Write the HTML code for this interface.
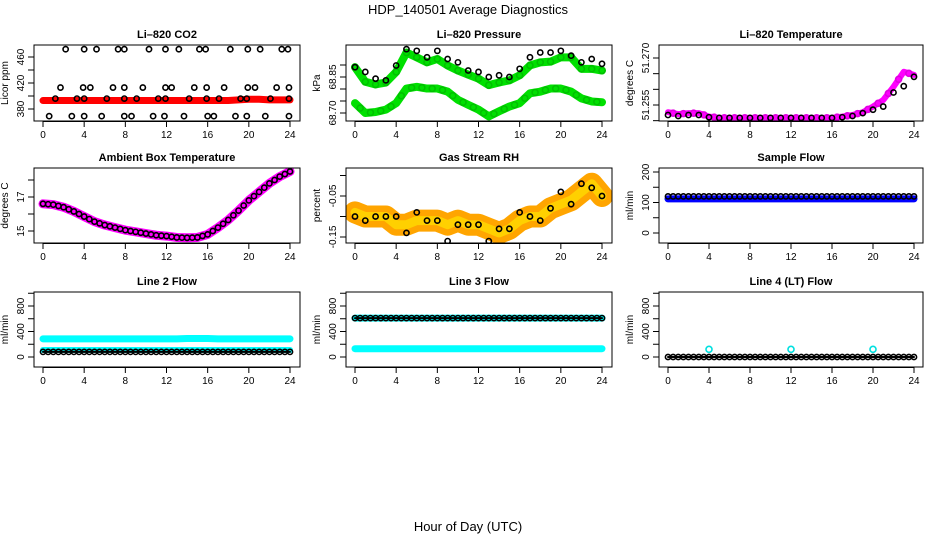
<!DOCTYPE html>
<html><head><meta charset="utf-8"><style>
body{margin:0;background:#fff;width:936px;height:540px;overflow:hidden}
svg{display:block;font-family:"Liberation Sans",sans-serif}
</style></head><body>
<svg id="fig" width="936" height="540" viewBox="0 0 936 540">
<text x="468" y="14" text-anchor="middle" font-size="13">HDP_140501  Average Diagnostics</text>
<text x="468" y="531" text-anchor="middle" font-size="13">Hour of Day (UTC)</text>
</svg>
<script>
// ---- data ----
const hours = [0,1,2,3,4,5,6,7,8,9,10,11,12,13,14,15,16,17,18,19,20,21,22,23,24];
const xTicks = [0,4,8,12,16,20,24];
// CO2
const co2Red = [393,393,393,393,393,393,393,393,393,393,393,393,393,393,393,393,393,393,393,394,395,395,394,394,394];
const co2BlkH = [2.2,4.0,5.2,7.3,7.9,10.3,11.9,13.2,15.2,15.8,18.2,19.9,21.1,23.2,23.8,1.7,3.9,4.6,6.8,7.9,9.7,11.9,12.5,14.7,15.9,17.6,19.9,20.6,22.7,23.9,1.2,3.3,4.0,6.2,7.9,9.1,11.2,11.9,14.2,15.9,17.1,19.2,19.8,22.1,23.9,0.6,2.8,4.0,5.7,7.9,8.6,10.7,11.8,13.7,16.0,16.6,18.7,19.8,21.6,23.9];
const co2BlkV = [472,472,472,472,472,472,472,472,472,472,472,472,472,472,472,413,413,413,413,413,413,413,413,413,413,413,413,413,413,413,396,396,396,396,396,396,396,396,396,396,396,396,396,396,396,369,369,369,369,369,369,369,369,369,369,369,369,369,369,369];
// Pressure
const presUpper = [68.891,68.830,68.819,68.827,68.871,68.952,68.932,68.911,68.925,68.898,68.877,68.860,68.843,68.816,68.827,68.836,68.857,68.898,68.911,68.914,68.932,68.932,68.884,68.884,68.877];
const presLower = [68.741,68.700,68.704,68.714,68.741,68.802,68.809,68.802,68.802,68.789,68.755,68.734,68.714,68.686,68.707,68.727,68.741,68.782,68.789,68.802,68.802,68.789,68.761,68.748,68.745];
const presBlack = [68.891,68.871,68.843,68.836,68.898,68.966,68.959,68.932,68.959,68.925,68.911,68.877,68.871,68.850,68.857,68.850,68.884,68.932,68.952,68.952,68.959,68.939,68.911,68.925,68.905];
// Li-820 temperature
const tempMag = [51.2527,51.2521,51.2524,51.2524,51.2513,51.2509,51.2509,51.2509,51.2509,51.2509,51.2509,51.2509,51.2509,51.2509,51.2509,51.2509,51.2509,51.2513,51.2518,51.2527,51.2545,51.2566,51.2608,51.2656,51.2646];
const tempBlk = [51.2518,51.2515,51.2518,51.2518,51.2511,51.2509,51.2509,51.2509,51.2509,51.2509,51.2509,51.2509,51.2509,51.2509,51.2509,51.2509,51.2509,51.2511,51.2515,51.2524,51.2535,51.2545,51.2590,51.2610,51.2640];
// Ambient box temperature
const ambT = [16.6,16.55,16.4,16.15,15.85,15.55,15.35,15.2,15.05,14.95,14.85,14.75,14.7,14.62,14.6,14.62,14.8,15.2,15.65,16.2,16.8,17.3,17.8,18.2,18.5];
// RH
const rhBand = [-0.09,-0.10,-0.10,-0.10,-0.12,-0.12,-0.11,-0.11,-0.11,-0.12,-0.11,-0.12,-0.12,-0.13,-0.14,-0.13,-0.11,-0.10,-0.10,-0.08,-0.07,-0.06,-0.04,-0.02,-0.05];
const rhBlk = [-0.10,-0.11,-0.10,-0.10,-0.10,-0.14,-0.09,-0.11,-0.11,-0.16,-0.12,-0.12,-0.12,-0.16,-0.13,-0.13,-0.09,-0.10,-0.11,-0.08,-0.04,-0.07,-0.02,-0.03,-0.05];
// Flows
const sampBlue = [112,112,112,112,112,112,112,112,112,112,112,112,112,112,112,112,112,112,112,112,112,112,112,112,112];
const sampBlk = [120,120,120,120,120,120,120,120,120,120,120,120,120,120,120,120,120,120,120,120,120,120,120,120,120];
const l2CyanHi = [285,285,285,285,285,285,285,285,285,285,285,285,285,285,290,290,290,285,285,285,285,285,285,285,285];
const l2CyanLo = [110,110,110,110,110,110,110,110,110,110,110,110,110,110,110,110,110,110,110,110,110,110,110,110,110];
const l2Blk = [80,80,80,80,80,80,80,80,80,80,80,80,80,80,80,80,80,80,80,80,80,80,80,80,80];
const l3CyanHi = [610,610,610,610,610,610,610,610,610,610,610,610,610,610,610,610,610,610,610,610,610,610,610,610,610];
const l3CyanLo = [130,130,130,130,130,130,130,130,130,130,130,130,130,130,130,130,130,130,130,130,130,130,130,130,130];
const l3Blk = [610,610,610,610,610,610,610,610,610,610,610,610,610,610,610,610,610,610,610,610,610,610,610,610,610];
const l4Blk = [0,0,0,0,0,0,0,0,0,0,0,0,0,0,0,0,0,0,0,0,0,0,0,0,0];
const l4SpikeH = [4,12,20];
const l4SpikeV = [120,120,120];

// ---- drawing ----
const NS='http://www.w3.org/2000/svg';
const fig=document.getElementById('fig');
function el(tag,attrs,parent){const e=document.createElementNS(NS,tag);for(const k in attrs)e.setAttribute(k,attrs[k]);(parent||fig).appendChild(e);return e;}
const cols=[{l:34,r:300,x0:43,x24:290},{l:346,r:612,x0:355,x24:602},{l:659,r:923,x0:668,x24:914}];
const rows=[{t:45,b:121},{t:168,b:243},{t:292,b:367}];
function panel(ci,ri,name,title,ylab,v1,y1,v2,y2,yt,yl){
  const c=cols[ci],r=rows[ri];
  const g=el('g',{});
  
  
  const sx=h=>c.x0+(c.x24-c.x0)*h/24;
  const sy=v=>y1+(v-v1)*(y2-y1)/(v2-v1);
  const t=el('text',{x:(c.l+c.r)/2,y:r.t-7,'text-anchor':'middle','font-size':'11','font-weight':'bold'},g);t.textContent=title;
  
  
  const yl2=el('text',{transform:`translate(${c.l-26},${(r.t+r.b)/2}) rotate(-90)`,'text-anchor':'middle','font-size':'10'},g);yl2.textContent=ylab;
  
  
  xTicks.forEach(h=>{el('line',{x1:sx(h),x2:sx(h),y1:r.b,y2:r.b+6,stroke:'#000'},g);
    const tx=el('text',{x:sx(h),y:r.b+17,'text-anchor':'middle','font-size':'10'},g);tx.textContent=h;
    
    });
  el('line',{x1:sx(0),x2:sx(24),y1:r.b+0.5,y2:r.b+0.5,stroke:'#000'},g);
  yt.forEach(v=>el('line',{x1:c.l-6,x2:c.l,y1:sy(v),y2:sy(v),stroke:'#000'},g));
  yl.forEach(v=>{const tt=el('text',{transform:`translate(${c.l-10},${sy(v)}) rotate(-90)`,'text-anchor':'middle','font-size':'10'},g);tt.textContent=v;
    
    });
  const clip='clip'+ci+ri;
  const cp=el('clipPath',{id:clip},g);el('rect',{x:c.l,y:r.t,width:c.r-c.l,height:r.b-r.t},cp);
  const pg=el('g',{'clip-path':`url(#${clip})`},g);
  el('rect',{x:c.l,y:r.t,width:c.r-c.l,height:r.b-r.t,fill:'none',stroke:'#000'},g);
  return {g:pg,sx,sy};
}
function band(p,xs,vs,color,w,nm){
  const pts=xs.map((h,i)=>p.sx(h)+','+p.sy(vs[i])).join(' ');
  const pl=el('polyline',{points:pts,fill:'none',stroke:color,'stroke-width':w,'stroke-linejoin':'round','stroke-linecap':'round'},p.g);
  
  
}
function pts(p,xs,vs,color,nm,r){
  xs.forEach((h,i)=>{const cc=el('circle',{cx:p.sx(h),cy:p.sy(vs[i]),r:r||2.6,fill:'none',stroke:color,'stroke-width':1.6},p.g);
    
    });
}
const half=hours.slice(0,24).map(h=>h+0.5);
function mid(a){return a.slice(0,24).map((v,i)=>(v+a[i+1])/2);}

let p=panel(0,0,'co2-panel','Li–820 CO2','Licor ppm',380,109,460,57,[380,400,420,440,460],[380,420,460]);
band(p,hours,co2Red,'#f00',7,'co2-red-series');
pts(p,co2BlkH,co2BlkV,'#000','co2-point');

p=panel(1,0,'pressure-panel','Li–820 Pressure','kPa',68.70,113,68.85,77,[68.70,68.75,68.80,68.85,68.90],['68.70','68.85']);
band(p,hours,presUpper,'#00e000',8,'pressure-upper-band');
band(p,hours,presLower,'#00e000',8,'pressure-lower-band');
pts(p,hours,presUpper,'#00c000','pressure-green-point',3);
pts(p,half,mid(presLower),'#00c000','pressure-green-point',3);
pts(p,hours,presBlack,'#000','pressure-black-point');

p=panel(2,0,'li820-temp-panel','Li–820 Temperature','degrees C',51.255,105,51.270,58,[51.250,51.255,51.260,51.265,51.270],['51.255','51.270']);
band(p,hours,tempMag,'#f0f',6,'temp-magenta-band');
pts(p,half,mid(tempMag),'#e000e0','temp-magenta-point',3);
pts(p,hours,tempBlk,'#000','temp-black-point');

p=panel(0,1,'ambient-temp-panel','Ambient Box Temperature','degrees C',15,231,17,197,[15,16,17,18],[15,17]);
band(p,hours,ambT,'#f0f',9,'ambient-magenta-band');
pts(p,hours,ambT,'#000','ambient-point');
pts(p,half,mid(ambT),'#000','ambient-point');

p=panel(1,1,'rh-panel','Gas Stream RH','percent',-0.05,196,-0.15,237,[-0.15,-0.10,-0.05,0.00],['-0.15','-0.05']);
band(p,hours,rhBand,'#ffa500',22,'rh-orange-band');
band(p,hours,rhBand,'#ffd000',9,'rh-yellow-band');
pts(p,hours,rhBlk,'#000','rh-point');

p=panel(2,1,'sample-flow-panel','Sample Flow','ml/min',0,233,200,172,[0,50,100,150,200],[0,100,200]);
band(p,hours,sampBlue,'#0000ff',7,'sample-blue-band');
pts(p,hours,sampBlk,'#000','sample-point');
pts(p,half,mid(sampBlk),'#000','sample-point');

p=panel(0,2,'line2-flow-panel','Line 2 Flow','ml/min',0,357,800,306,[0,200,400,600,800,1000],[0,400,800]);
band(p,hours,l2CyanHi,'#00ffff',7,'line2-cyan-high');
band(p,hours,l2CyanLo,'#00ffff',6,'line2-cyan-low');
band(p,hours,l2Blk,'#000',2,'line2-black-line');
pts(p,hours,l2Blk,'#000','line2-point');pts(p,half,mid(l2Blk),'#000','line2-point');

p=panel(1,2,'line3-flow-panel','Line 3 Flow','ml/min',0,357,800,306,[0,200,400,600,800,1000],[0,400,800]);
band(p,hours,l3CyanHi,'#00ffff',7,'line3-cyan-high');
band(p,hours,l3CyanLo,'#00ffff',7,'line3-cyan-low');
band(p,hours,l3Blk,'#000',2,'line3-black-line');
pts(p,hours,l3Blk,'#000','line3-point');pts(p,half,mid(l3Blk),'#000','line3-point');

p=panel(2,2,'line4-flow-panel','Line 4 (LT) Flow','ml/min',0,357,800,306,[0,200,400,600,800,1000],[0,400,800]);
band(p,hours,l4Blk,'#000',2,'line4-black-line');
pts(p,hours,l4Blk,'#000','line4-point');pts(p,half,mid(l4Blk),'#000','line4-point');
pts(p,l4SpikeH,l4SpikeV,'#00e0e0','line4-cyan-point',3);
</script>
</body></html>
